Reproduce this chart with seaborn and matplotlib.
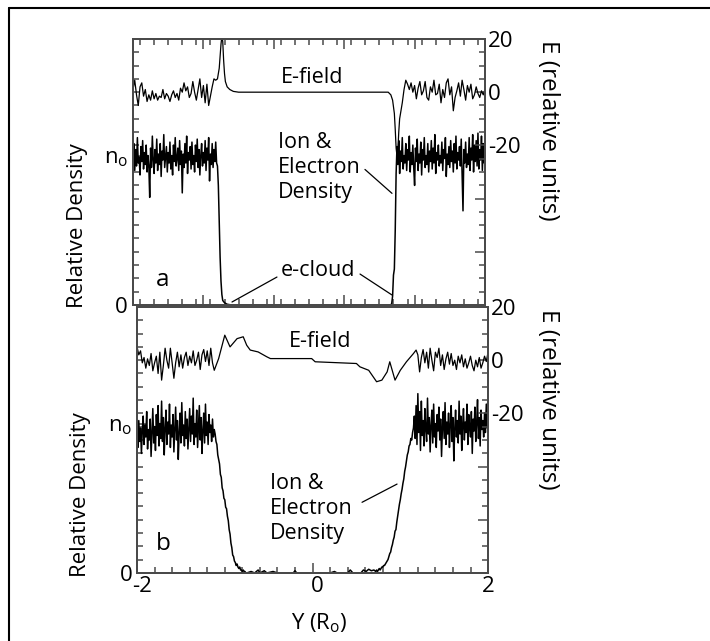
import numpy as np
import pandas as pd
import matplotlib.pyplot as plt
import matplotlib.transforms as mtransforms
import seaborn as sns
from matplotlib.ticker import MultipleLocator, FixedLocator
from matplotlib.lines import Line2D

sns.set_style('ticks')
plt.rcParams['font.family'] = ['Open Sans', 'DejaVu Sans']
plt.rcParams.update({'text.color': 'black', 'axes.labelcolor': 'black',
                     'xtick.color': 'black', 'ytick.color': 'black'})

# ---------------- panel a : density (units of n0) ----------------
# x = -2.00 .. -1.05 every 0.01
dens_a_left = [0.98, 1.08, 0.90, 1.04, 0.93, 1.12, 0.95, 0.99, 0.87, 1.06,
               0.96, 1.10, 0.91, 1.02, 0.94, 1.07, 0.89, 1.00, 0.93, 0.72,
               1.05, 0.92, 1.13, 0.97, 0.88, 1.04, 0.95, 1.11, 0.90, 1.01,
               0.94, 1.08, 0.86, 1.03, 0.97, 1.14, 0.92, 0.99, 1.06, 0.89,
               1.02, 0.95, 1.09, 0.91, 1.00, 0.87, 1.07, 0.96, 1.12, 0.93,
               0.98, 1.05, 0.90, 1.10, 0.94, 1.03, 0.75, 1.01, 0.92, 1.08,
               0.95, 1.13, 0.88, 1.02, 0.97, 1.06, 0.91, 1.09, 0.94, 1.00,
               0.89, 1.07, 0.96, 1.11, 0.92, 1.04, 0.87, 1.00, 1.08, 0.93,
               1.02, 0.95, 1.10, 0.90, 1.05, 0.97, 1.12, 0.83, 1.01, 0.94,
               1.08, 0.92, 1.04, 0.96, 1.09, 0.95]
dens_a_drop_x = [-1.04, -1.03, -1.02, -1.01, -1.00, -0.99, -0.98, -0.96, -0.93, -0.88]
dens_a_drop = [0.93, 0.80, 0.55, 0.32, 0.16, 0.07, 0.03, 0.015, 0.005, 0.0]
dens_a_rise_x = [0.93, 0.94, 0.95, 0.96, 0.97, 0.98, 0.99]
dens_a_rise = [0.0, 0.01, 0.06, 0.20, 0.24, 0.50, 0.88]
# x = 1.00 .. 2.00 every 0.01
dens_a_right = [1.06, 0.94, 1.10, 0.88, 1.03, 0.96, 1.12, 0.91, 1.00, 0.95,
                1.08, 0.90, 1.04, 0.97, 1.13, 0.89, 1.02, 0.94, 1.07, 0.92,
                0.80, 1.05, 0.96, 1.11, 0.90, 1.01, 0.95, 1.09, 0.87, 1.04,
                0.97, 1.12, 0.92, 1.00, 0.94, 1.08, 0.89, 1.03, 0.96, 1.10,
                0.91, 1.05, 0.95, 1.14, 0.88, 1.02, 0.97, 1.07, 0.93, 1.00,
                0.95, 1.09, 0.90, 1.04, 0.98, 1.12, 0.86, 1.01, 0.94, 1.06,
                0.92, 1.10, 0.96, 1.03, 0.89, 1.08, 0.95, 1.13, 0.91, 1.02,
                0.97, 1.06, 0.93, 1.11, 0.88, 0.63, 1.04, 0.95, 1.09, 0.92,
                1.01, 0.94, 1.12, 0.90, 1.05, 0.97, 1.14, 0.89, 1.07, 0.96,
                1.10, 0.93, 1.15, 0.91, 1.04, 0.97, 1.13, 0.90, 1.08, 0.95,
                1.02]

# ---------------- panel a : E-field ----------------
# x = -2.00 .. -1.06 every 0.02
e_a_left = [1, 4.5, -1, -5, 2, 3.5, -1.5, 1, -3.5, -1,
            -3, 0.5, -2.5, -0.5, -3, -1.5, -2, 1, -2.5, -0.5,
            -1.5, -3.5, -1, 0.5, -2, -0.5, -3, 1.5, 0, 3.5,
            0.5, 2, -2, -0.5, 4, 0, -3, 1, 5, -2,
            2.5, -4, 3, -5, -1.5, 2, 5, 4.5]
e_a_mid_x = [-1.04, -1.02, -1.00, -0.99, -0.98, -0.97, -0.96, -0.95, -0.93, -0.90,
             -0.86, -0.80, 0.90, 0.93, 0.95, 0.97, 0.98, 0.99, 1.00, 1.01,
             1.02, 1.03, 1.04, 1.06, 1.08, 1.10]
e_a_mid = [5, 9, 18, 21, 19, 12, 7, 4, 2, 1,
           0.3, 0, 0, -1, -3, -8, -14, -21, -24, -22,
           -15, -10, -8, -4, 1, 4.5]
# x = 1.12 .. 2.00 every 0.02
e_a_right = [3, 1, 3.5, 0, 2.5, -2.5, 1.5, 4, -1, 0.5,
             4, -2, -3, 2, 0, 4.5, -1, -0.5, 3, -4,
             1, -2, 3.5, 5, -1, 2, -7, -2, 0.5, 3.5,
             -1.5, 4.5, 1, -3, 2.5, 0, 3, -2.5, -1, 2,
             -0.5, -2, 0.5, -1, 1]

# ---------------- panel b : density ----------------
# x = -2.00 .. -1.12 every 0.01
dens_b_left = [0.93, 0.84, 1.02, 0.88, 0.97, 0.80, 0.95, 1.05, 0.86, 0.99,
               0.91, 1.08, 0.83, 0.96, 0.89, 1.03, 0.78, 0.94, 1.10, 0.87,
               0.98, 0.82, 1.06, 0.92, 1.12, 0.85, 1.00, 0.90, 1.15, 0.88,
               1.04, 0.79, 0.97, 1.09, 0.86, 1.01, 0.93, 1.13, 0.84, 0.99,
               0.91, 1.06, 0.81, 0.96, 1.11, 0.89, 1.02, 0.76, 0.94, 1.07,
               0.87, 1.14, 0.92, 0.99, 0.85, 1.08, 0.90, 1.03, 0.83, 0.97,
               1.10, 0.88, 1.05, 0.93, 1.17, 0.86, 1.00, 0.91, 1.09, 0.84,
               0.98, 1.12, 0.89, 1.04, 0.80, 0.95, 1.07, 0.87, 1.13, 0.92,
               1.01, 0.86, 1.06, 0.94, 0.99, 0.88, 1.03, 0.91, 0.96]
# x = -1.11 .. -0.76 every 0.01
dens_b_fall = [0.93, 0.88, 0.86, 0.79, 0.76, 0.73, 0.66, 0.64, 0.57, 0.55,
               0.50, 0.49, 0.44, 0.43, 0.38, 0.35, 0.29, 0.26, 0.20, 0.17,
               0.12, 0.11, 0.08, 0.07, 0.05, 0.06, 0.04, 0.03, 0.04, 0.02,
               0.02, 0.01, 0.02, 0.01, 0.01, 0.0]
dens_b_floor_x = [-0.75, -0.70, -0.66, -0.62, -0.60, -0.55, -0.52, -0.45, -0.40, -0.22,
                  -0.20, -0.18, 0.20, 0.25, 0.28, 0.40, 0.43, 0.46, 0.55, 0.58,
                  0.61, 0.64, 0.67, 0.70]
dens_b_floor = [0.0, 0.01, 0.0, 0.02, 0.0, 0.015, 0.0, 0.01, 0.0, 0.0,
                0.015, 0.0, 0.0, 0.01, 0.0, 0.0, 0.02, 0.0, 0.0, 0.02,
                0.01, 0.025, 0.015, 0.02]
# x = 0.72 .. 1.14 every 0.01
dens_b_rise = [0.01, 0.02, 0.01, 0.02, 0.03, 0.02, 0.03, 0.04, 0.04, 0.05,
               0.05, 0.06, 0.07, 0.08, 0.09, 0.11, 0.13, 0.14, 0.17, 0.19,
               0.22, 0.24, 0.28, 0.29, 0.34, 0.38, 0.42, 0.46, 0.49, 0.53,
               0.56, 0.60, 0.63, 0.68, 0.71, 0.75, 0.79, 0.81, 0.85, 0.86,
               0.90, 0.89, 0.94]
# x = 1.15 .. 2.00 every 0.01
dens_b_right = [0.97, 1.05, 0.90, 1.12, 0.86, 1.20, 0.94, 1.08, 0.82, 1.15,
                0.92, 1.02, 0.85, 1.10, 0.96, 0.88, 1.17, 0.93, 1.04, 0.81,
                0.99, 1.09, 0.87, 1.13, 0.91, 1.00, 0.84, 1.06, 0.95, 1.11,
                0.89, 1.03, 0.78, 0.97, 1.08, 0.90, 1.14, 0.86, 1.01, 0.93,
                1.07, 0.84, 0.99, 1.12, 0.88, 1.04, 0.75, 0.96, 1.09, 0.91,
                1.02, 0.87, 1.15, 0.93, 1.05, 0.82, 0.98, 1.10, 0.89, 1.01,
                0.94, 1.13, 0.86, 1.06, 0.97, 0.91, 1.08, 0.80, 1.03, 0.95,
                1.11, 0.88, 1.00, 1.16, 0.90, 1.04, 0.85, 1.09, 0.96, 1.02,
                0.91, 1.07, 0.94, 1.13, 0.97, 1.24]

# ---------------- panel b : E-field ----------------
# x = -2.00 .. -1.12 every 0.02
e_b_left = [5, 2, 3.5, -1, 1, -3, 0.5, -2, 2.5, -4,
            -1, 1.5, -5, 3, -7.5, -2, 4.5, 0, -3, 4.5,
            -1, -6.8, -1, 3, -2.5, 2, -3, 1, 3, -2,
            1.5, -1, 3.5, -2, 0, 3, -3.5, 2, 4, -0.5,
            3.5, -2, 4.5, -1, -3.8]
e_b_mid_x = [-1.07, -1.00, -0.94, -0.86, -0.79, -0.75, -0.71, -0.62, -0.52, -0.48,
             -0.01, 0.03, 0.50, 0.54, 0.64, 0.73, 0.79, 0.85, 0.88, 0.94,
             1.00, 1.07, 1.15, 1.18]
e_b_mid = [0.6, 9.4, 5, 8.1, 8.8, 5.6, 3.8, 3.1, 1.25, 0.6,
           0.6, -0.6, -1.25, -2.5, -3.8, -8.1, -7.5, -4.4, -0.6, -7.5,
           -3.8, -0.6, 2.5, 3.8]
# x = 1.20 .. 2.00 every 0.02
e_b_right = [2, -4.4, 1, 4, -1, 3, -3, 4.5, 0, -4,
             3, 1, 4.5, -2, 2, -3.5, 0.5, 3, -1.5, 2.5,
             -2, 0, -3.5, 1.5, -1, 2, -2.5, 0.5, -3, -1,
             1.5, -2, -4, 0, -2.5, 1, -3, -1, 1.5, -0.5,
             3]


def build(parts):
    xs, ys = [], []
    for x, y in parts:
        xs.extend(list(x))
        ys.extend(list(y))
    return pd.DataFrame({'Y': xs, 'val': ys})


dens_a = build([(np.linspace(-2.00, -1.05, len(dens_a_left)), dens_a_left),
                (dens_a_drop_x, dens_a_drop),
                (dens_a_rise_x, dens_a_rise),
                (np.linspace(1.00, 2.00, len(dens_a_right)), dens_a_right)])
efield_a = build([(np.linspace(-2.00, -1.06, len(e_a_left)), e_a_left),
                  (e_a_mid_x, e_a_mid),
                  (np.linspace(1.12, 2.00, len(e_a_right)), e_a_right)])
dens_b = build([(np.linspace(-2.00, -1.12, len(dens_b_left)), dens_b_left),
                (np.linspace(-1.11, -0.76, len(dens_b_fall)), dens_b_fall),
                (dens_b_floor_x, dens_b_floor),
                (np.linspace(0.72, 1.14, len(dens_b_rise)), dens_b_rise),
                (np.linspace(1.15, 2.00, len(dens_b_right)), dens_b_right)])
efield_b = build([(np.linspace(-2.00, -1.12, len(e_b_left)), e_b_left),
                  (e_b_mid_x, e_b_mid),
                  (np.linspace(1.20, 2.00, len(e_b_right)), e_b_right)])

N0_LABEL = r'n$_\mathregular{o}$'
SPINE = '#4a4a4a'

fig = plt.figure(figsize=(7.1, 6.41), dpi=100)
ax_a = fig.add_axes([0.1873, 0.5242, 0.4958, 0.4150])
ax_b = fig.add_axes([0.1930, 0.1061, 0.4944, 0.4150])


def draw_panel(ax, dens, efield):
    sns.lineplot(data=dens, x='Y', y='val', ax=ax, color='black', lw=1.1,
                 estimator=None, sort=False)
    ax.set_xlim(-2, 2)
    ax.set_ylim(0, 1.78)
    ax.yaxis.set_major_locator(FixedLocator([0, 1.0]))
    ax.set_yticklabels(['0', N0_LABEL])
    ax.yaxis.set_minor_locator(MultipleLocator(1.78 / 20))
    ax.tick_params(axis='both', which='both', direction='in', color=SPINE,
                   labelsize=16, width=1.1)
    ax.tick_params(which='major', length=7)
    ax.tick_params(which='minor', length=4)

    ax2 = ax.twinx()
    sns.lineplot(data=efield, x='Y', y='val', ax=ax2, color='black', lw=0.9,
                 estimator=None, sort=False)
    ax2.set_ylim(-80, 20)
    ax2.set_yticks([-80, -60, -40, -20, 0, 20])
    ax2.set_yticklabels(['', '', '', '-20', '0', '20'])
    ax2.yaxis.set_minor_locator(MultipleLocator(5))
    ax2.tick_params(axis='y', which='both', direction='in', color=SPINE,
                    labelsize=16, width=1.1, pad=2)
    ax2.tick_params(which='major', length=7)
    ax2.tick_params(which='minor', length=4)
    for a in (ax, ax2):
        for s in a.spines.values():
            s.set_color(SPINE)
            s.set_linewidth(1.4)
    return ax2


ax2_a = draw_panel(ax_a, dens_a, efield_a)
ax2_b = draw_panel(ax_b, dens_b, efield_b)

# x ticks: panel a has no labels, panel b labels -2, 0, 2
ax_a.xaxis.set_major_locator(FixedLocator([-2, -1.2, -0.4, 0.4, 1.2, 2.0]))
ax_a.xaxis.set_minor_locator(MultipleLocator(0.16))
ax_a.tick_params(axis='x', which='both', top=True, labelbottom=False)
ax_a.set_xlabel('')
ax_b.set_xticks([-2, 0, 2])
ax_b.set_xticklabels(['-2', '0', '2'])
ax_b.xaxis.set_minor_locator(MultipleLocator(0.2))
ax_b.tick_params(axis='x', pad=2)
# nudge the -2 and 0 labels right, as in the original figure
for lab, dx in zip(ax_b.get_xticklabels(), [5, 5, 0]):
    lab.set_transform(lab.get_transform() +
                      mtransforms.ScaledTranslation(dx / 100, 0, fig.dpi_scale_trans))

# axis labels
ax_a.set_ylabel('Relative Density', fontsize=16, va='center')
ax_a.yaxis.set_label_coords(-0.159, 0.30)
ax_b.set_ylabel('Relative Density', fontsize=16, va='center')
ax_b.yaxis.set_label_coords(-0.160, 0.293)
ax2_a.set_ylabel('E (relative units)', fontsize=17.5, rotation=270, va='center')
ax2_a.yaxis.set_label_coords(1.179, 0.658)
ax2_b.set_ylabel('E (relative units)', fontsize=17.5, rotation=270, va='center')
ax2_b.yaxis.set_label_coords(1.171, 0.654)
ax_b.set_xlabel(r'Y (R$_\mathregular{o}$)', fontsize=16, va='center')
ax_b.xaxis.set_label_coords(0.518, -0.188)

line_kw = dict(arrowstyle='-', color='black', lw=0.9, shrinkA=0, shrinkB=0)

# panel a annotations
ax_a.text(0.509, 0.857, 'E-field', transform=ax_a.transAxes, ha='center', va='center', fontsize=15.5)
ax_a.text(0.412, 0.515, 'Ion &\nElectron\nDensity', transform=ax_a.transAxes,
          ha='left', va='center', fontsize=15.5, linespacing=1.25)
ax_a.annotate('', xy=(0.943, 0.747), xytext=(0.636, 0.907), arrowprops=line_kw)
ax_a.text(0.526, 0.128, 'e-cloud', transform=ax_a.transAxes, ha='center', va='center', fontsize=15.5)
ax_a.annotate('', xy=(-0.875, 0.02), xytext=(-0.364, 0.187), arrowprops=line_kw)
ax_a.annotate('', xy=(0.943, 0.067), xytext=(0.58, 0.207), arrowprops=line_kw)
ax_a.text(0.085, 0.094, 'a', transform=ax_a.transAxes, ha='center', va='center', fontsize=17.5)

# panel b annotations
ax_b.text(0.521, 0.872, 'E-field', transform=ax_b.transAxes, ha='center', va='center', fontsize=15.5)
ax_b.text(0.379, 0.244, 'Ion &\nElectron\nDensity', transform=ax_b.transAxes,
          ha='left', va='center', fontsize=15.5, linespacing=1.25)
ax_b.annotate('', xy=(0.963, 0.595), xytext=(0.564, 0.473), arrowprops=line_kw)
ax_b.text(0.074, 0.109, 'b', transform=ax_b.transAxes, ha='center', va='center', fontsize=17.5)

# outer frame of the figure
fig.add_artist(Line2D([0.0127, 1.0], [0.9875, 0.9875], transform=fig.transFigure, color='black', lw=1.5))
fig.add_artist(Line2D([0.0127, 0.0127], [0.0, 0.9875], transform=fig.transFigure, color='black', lw=1.5))

fig.savefig('out.png', dpi=100)
